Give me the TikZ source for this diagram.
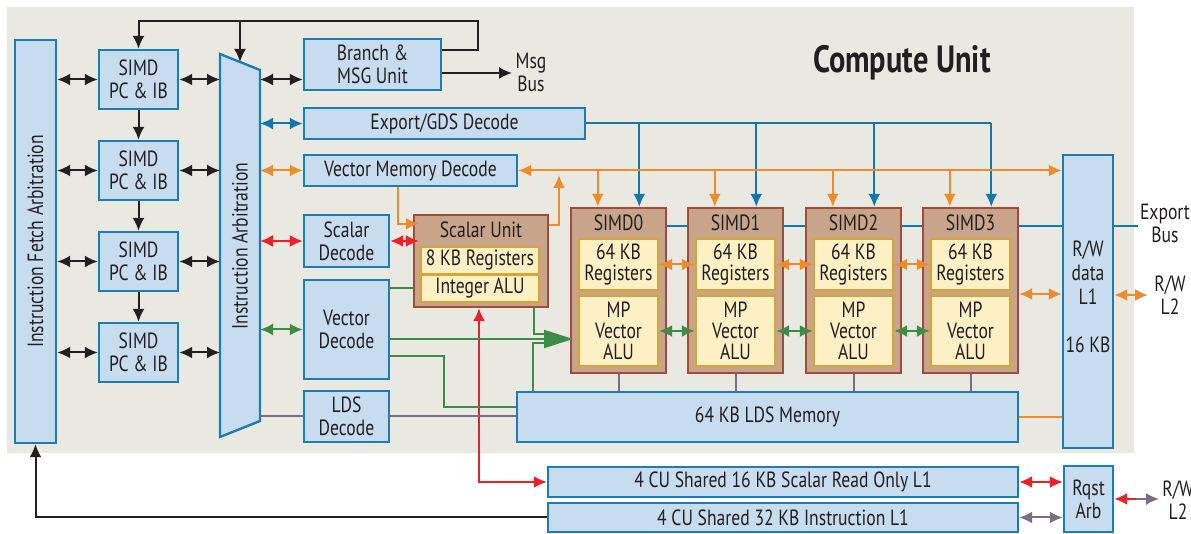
\documentclass[tikz,border=0pt]{standalone}
\usepackage{fontspec}
\setmainfont{PT Sans}[FakeStretch=0.8]
\usetikzlibrary{fit,arrows.meta,calc}
\pgfdeclarelayer{bg}
\pgfsetlayers{bg,main}
\definecolor{cbg}{HTML}{E9E8E1}
\definecolor{cbf}{HTML}{C8DCF0}
\definecolor{cbd}{HTML}{1B7DB3}
\definecolor{cbrf}{HTML}{C8A58A}
\definecolor{cbrd}{HTML}{A24A3C}
\definecolor{cyf}{HTML}{FEF0C5}
\definecolor{cyd}{HTML}{D9A532}
\definecolor{cor}{HTML}{EF8B2C}
\definecolor{cbl}{HTML}{1277AE}
\definecolor{cred}{HTML}{EC2128}
\definecolor{cgr}{HTML}{3C8C46}
\definecolor{cpu}{HTML}{7D6B84}
\definecolor{cblk}{HTML}{231F20}
\newcommand{\mybox}[4]{\node[#1, fit={#3}] (#2) {}; \node at (#2.center) {#4};}
\begin{document}
\begin{tikzpicture}[x=0.5pt,y=-0.5pt,
  font=\fontsize{11}{11.5}\selectfont,
  every node/.style={inner sep=0pt, align=center, text=cblk},
  bbox/.style={draw=cbd, fill=cbf, line width=1.2pt},
  brbox/.style={draw=cbrd, fill=cbrf, line width=1.2pt},
  ybox/.style={draw=cyd, fill=cyf, line width=1.2pt},
  ln/.style={line width=1pt},
  dbl/.style={line width=1pt, {Latex[length=6.5pt,width=6pt]}-{Latex[length=6.5pt,width=6pt]}},
  sgl/.style={line width=1pt, -{Latex[length=6.5pt,width=6pt]}}]
\useasboundingbox (0,0) rectangle (1191,534);
\clip (0,0) rectangle (1191,534);
\begin{pgfonlayer}{bg}
\fill[cbg] (7,7) rectangle (1134,453);
\end{pgfonlayer}

% left column
\node[bbox, fit={(15,40)(56,443)}] (ifa) {};
\node[rotate=90] at (ifa.center) {Instruction Fetch Arbitration};
\foreach \i/\y in {1/50,2/141,3/232,4/323}{
  \node[bbox, fit={(99,\y)(178,{\y+59})}] (s\i) {};
  \node at (s\i.center) {SIMD\\PC \& IB};
}

% instruction arbitration
\draw[bbox] (220,54) -- (260,70) -- (260,421) -- (220,437) -- cycle;
\coordinate (iaT) at (240,62);
\coordinate (iaR) at (260,245);
\coordinate (iaL) at (220,245);
\node[rotate=90] at (240,246) {Instruction Arbitration};

% decode boxes
\mybox{bbox}{br}{(304,39)(441,90)}{Branch \&\\MSG Unit}
\mybox{bbox}{ex}{(304,108)(585,139)}{Export/GDS Decode}
\mybox{bbox}{vmd}{(304,155)(517,186)}{Vector Memory Decode}
\mybox{bbox}{sd}{(304,215)(389,267)}{Scalar\\Decode}
\mybox{bbox}{vd}{(304,280)(389,379)}{Vector\\Decode}
\mybox{bbox}{ldsd}{(304,391)(389,442)}{LDS\\Decode}

% scalar unit
\node[brbox, fit={(414,215)(548,307)}] (su) {};
\node at (481,230) {Scalar Unit};
\mybox{ybox}{sreg}{(421,247)(539,274)}{8 KB Registers}
\mybox{ybox}{ialu}{(421,275)(539,302)}{Integer ALU}

% SIMDs
\foreach \k/\x in {0/571,1/688,2/806,3/923}{
  \node[brbox, fit={(\x,208)({\x+95},373)}] (S\k) {};
  \node at ({\x+47.5},223) {SIMD\k};
  \node[ybox, fit={({\x+8},239)({\x+87},290)}] (R\k) {};
  \node[font=\fontsize{11}{10.5}\selectfont] at (R\k.center) {64 KB\\Registers};
  \node[ybox, fit={({\x+8},296)({\x+87},366)}] (A\k) {};
  \node[font=\fontsize{11}{10.5}\selectfont] at (A\k.center) {MP\\Vector\\ALU};
  \coordinate (ok\k) at ([xshift=14pt]S\k.north west);
  \coordinate (bk\k) at ([xshift=34.75pt]S\k.north west);
}

\mybox{bbox}{lds}{(517,392)(1018,442)}{64 KB LDS Memory}
\node[bbox, fit={(1063,155)(1113,448)}] (rw) {};
\node[font=\fontsize{11}{12}\selectfont] at (1088,273) {R/W\\data\\L1};
\node at (1088,345) {16 KB};

\mybox{bbox}{ro}{(548,467)(1018,497)}{4 CU Shared 16 KB Scalar Read Only L1}
\mybox{bbox}{il}{(548,503)(1018,532)}{4 CU Shared 32 KB Instruction L1}
\mybox{bbox}{rq}{(1064,466)(1113,532)}{Rqst\\Arb}

% outside labels
\node (msg) at (531,72) {Msg\\Bus};
\node (expbus) at (1165,223) {Export\\Bus};
\node (l2a) at (1170,295) {R/W\\L2};
\node (l2b) at (1178,500) {R/W\\L2};
\node[font=\fontsize{19}{22}\selectfont\bfseries] (title) at (902,63) {Compute Unit};

% black connectors
\foreach \i in {1,2,3,4}{
  \draw[cblk,dbl] (ifa.east |- s\i) -- (s\i.west);
  \draw[cblk,dbl] (s\i.east) -- (iaL |- s\i);
}
\draw[cblk,sgl] (s1.south) -- (s2.north);
\draw[cblk,sgl] (s2.south) -- (s3.north);
\draw[cblk,sgl] (s3.south) -- (s4.north);
\draw[cblk,dbl] (iaR |- s1) -- (br.west |- s1);
\coordinate (loopR) at (478,21);
\draw[cblk,sgl] ([yshift=-6pt]br.north east) -| (loopR) -| (s1.north);
\draw[cblk,sgl] (loopR -| iaT) -- (iaT);
\coordinate (msgA) at (512,73);
\draw[cblk,sgl] (br.east |- msgA) -- (msgA);
\draw[cblk,sgl] (il.west) -| (ifa.south);

% blue connectors
\draw[cbl,dbl] (iaR |- ex) -- (ex.west);
\draw[cbl,ln] (ex.east) -- (ex.east -| bk3);
\foreach \k in {0,1,2,3} \draw[cbl,sgl] (ex.east -| bk\k) -- (bk\k);
\begin{pgfonlayer}{bg}
\coordinate (bline) at ([yshift=-9.5pt]S0.north east);
\draw[cbl,ln] (bline) -- ([xshift=-1pt]expbus.west |- bline);
\end{pgfonlayer}

% orange connectors
\draw[cor,dbl] (iaR |- vmd) -- (vmd.west);
\draw[cor,dbl] (vmd.east) -- (rw.west |- vmd.east);
\foreach \k in {0,1,2,3} \draw[cor,sgl] (vmd.east -| ok\k) -- (ok\k);
\draw[cor,sgl] ([xshift=-60pt]vmd.south east) |- ([xshift=3pt,yshift=-5pt]su.north west);
\coordinate (upA) at (559,175);
\draw[cor,sgl] ([yshift=-5.5pt]su.north east) -| (upA);
\draw[cor,dbl] (R0.east) -- (R1.west);
\draw[cor,dbl] (R1.east) -- (R2.west);
\draw[cor,dbl] (R2.east) -- (R3.west);
\coordinate (rwA) at ([yshift=-1.75pt]S3.east);
\draw[cor,dbl] (rwA) -- (rw.west |- rwA);
\draw[cor,dbl] (rw.east |- l2a) -- ([xshift=-3pt]l2a.west);
\draw[cor,ln] (lds.east) -- (rw.west |- lds.east);

% red connectors
\draw[cred,dbl] (iaR |- sd) -- (sd.west);
\draw[cred,dbl] (sd.east) -- ([xshift=3pt]su.west |- sd.east);
\coordinate (rA) at (479,481);
\draw[cred,dbl] (su.south -| rA) |- (ro.west);
\draw[cred,dbl] (ro.east) -- (rq.west |- ro.east);
\coordinate (l2m) at (1136,499);
\draw[cred,line width=1pt,-{Latex[length=6.5pt,width=6pt]}] (l2m) -- (rq.east |- l2m);
\draw[cpu,line width=1pt,-{Latex[length=6.5pt,width=6pt]}] (l2m) -- (1159,0 |- l2m);

% green connectors
\draw[cgr,dbl] (iaR |- vd) -- (vd.west);
\draw[cgr,ln] (vd.east |- ialu) -- (su.west |- ialu);
\coordinate (gA) at (573,339);
\draw[cgr,line width=1pt,-{Triangle[length=14.5pt,width=9pt]}] (vd.east |- gA) -- (gA);
\draw[cgr,ln] ([xshift=-7.5pt]su.south east) |- ([xshift=-13pt,yshift=2.5pt]gA);
\draw[cgr,ln] ([xshift=8.5pt]lds.north west) |- ([xshift=-13pt,yshift=-2pt]gA);
\coordinate (gC) at (444,407);
\draw[cgr,ln] ([yshift=-13.25pt]vd.east) -| (gC) -- (lds.west |- gC);
\draw[cgr,dbl] (A0.east) -- (A1.west);
\draw[cgr,dbl] (A1.east) -- (A2.west);
\draw[cgr,dbl] (A2.east) -- (A3.west);

% purple connectors
\draw[cpu,ln] (iaR |- ldsd) -- (ldsd.west);
\draw[cpu,ln] (ldsd.east) -- (lds.west |- ldsd);
\foreach \k in {0,1,2,3} \draw[cpu,ln] (S\k.south) -- (lds.north -| S\k.south);
\draw[cpu,dbl] (il.east) -- (rq.west |- il.east);
\end{tikzpicture}
\end{document}
